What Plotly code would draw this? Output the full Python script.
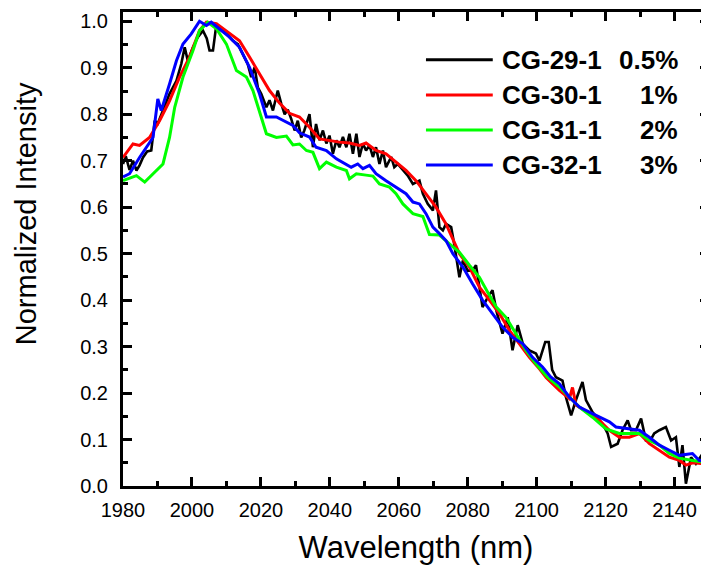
import plotly.graph_objects as go

# ---- data ----
series_names = ["CG-29-1", "CG-30-1", "CG-31-1", "CG-32-1"]
series_pct = ["0.5%", "1%", "2%", "3%"]
series_colors = ["#000000", "#FF0000", "#00FF00", "#0000FF"]

wl_black = [1980, 1980.8, 1981.9, 1982.9, 1983.9, 1984.8, 1985.8, 1987, 1988.2, 1989.2, 1990.1, 1991.6,
            1993.5, 1995.5, 1996.9, 1997.9, 1998.8, 2000.3, 2001.7, 2003.2, 2004.3, 2005.1, 2006.1, 2007.1,
            2008, 2010, 2011.9, 2013.3, 2014.8, 2016.2, 2017.2, 2018.2, 2019.1, 2020.1, 2021.6, 2022.5,
            2023.5, 2024.9, 2025.9, 2026.9, 2027.8, 2028.8, 2029.8, 2030.7, 2031.7, 2032.6, 2034.1, 2035.1,
            2036, 2037, 2038, 2039, 2039.9, 2040.9, 2041.9, 2042.8, 2043.8, 2044.8, 2045.7, 2046.7, 2047.7,
            2048.6, 2049.6, 2050.5, 2051.5, 2052.5, 2053.4, 2054.4, 2055.4, 2056.3, 2057.8, 2058.7, 2059.7,
            2061.2, 2062.6, 2064.1, 2066, 2067, 2068.4, 2069.9, 2070.8, 2071.8, 2072.8, 2073.7, 2075.2,
            2076.1, 2077.6, 2078.6, 2080, 2081.4, 2082.4, 2083.4, 2084.3, 2085.8, 2087.2, 2088.3, 2090.1,
            2091.6, 2093, 2094.5, 2096, 2097.9, 2099.8, 2100.8, 2102.5, 2103.5, 2104.5, 2105.6, 2107.5,
            2108.5, 2110, 2111.4, 2112.5, 2113.3, 2114.3, 2116.2, 2119.1, 2120.6, 2121.6, 2123.5, 2124.9,
            2126.4, 2127.4, 2128.8, 2130.3, 2131.7, 2133, 2134.1, 2135.6, 2137.5, 2139, 2140.4, 2141.4,
            2142.3, 2143.3, 2144.8, 2146.2, 2148.2, 2150]
int_black = [0.693, 0.71, 0.68, 0.70, 0.679, 0.69, 0.707, 0.72, 0.722, 0.786, 0.78, 0.808,
             0.844, 0.872, 0.908, 0.944, 0.915, 0.944, 0.966, 0.98, 0.963, 0.937, 0.937, 0.994,
             0.984, 0.973, 0.958, 0.951, 0.93, 0.908, 0.88, 0.901, 0.858, 0.844, 0.815, 0.83,
             0.808, 0.851, 0.823, 0.80, 0.81, 0.79, 0.765, 0.786, 0.75, 0.765, 0.80, 0.729,
             0.779, 0.744, 0.765, 0.737, 0.754, 0.715, 0.744, 0.729, 0.751, 0.729, 0.758, 0.715, 0.758,
             0.708, 0.737, 0.722, 0.733, 0.708, 0.729, 0.693, 0.722, 0.686, 0.708, 0.686, 0.693,
             0.679, 0.668, 0.65, 0.657, 0.629, 0.607, 0.593, 0.636, 0.557, 0.55, 0.564, 0.557,
             0.52, 0.449, 0.485, 0.463, 0.464, 0.475, 0.428, 0.385, 0.406, 0.421, 0.378, 0.328,
             0.363, 0.292, 0.346, 0.306, 0.292, 0.285, 0.27, 0.31, 0.31, 0.25, 0.234, 0.227,
             0.191, 0.152, 0.185, 0.21, 0.224, 0.185, 0.159, 0.134, 0.113, 0.084, 0.091, 0.12,
             0.141, 0.12, 0.12, 0.145, 0.098, 0.098, 0.113, 0.12, 0.127, 0.098, 0.105, 0.041,
             0.088, 0.005, 0.062, 0.048, 0.07, 0.06]

wl_red = [1980, 1982.9, 1984.8, 1987.7, 1990.6, 1993.5, 1996.4, 1999.3, 2002.2, 2004.2, 2007.1, 2010.9,
          2013.8, 2016.7, 2019.6, 2022.5, 2025.4, 2028.3, 2031.2, 2034.1, 2037, 2039.9, 2042.8, 2045.7,
          2048.6, 2050.5, 2053.4, 2056.3, 2059.2, 2062.1, 2065, 2067.9, 2070.8, 2073.7, 2077.6, 2080.5,
          2083.4, 2086.3, 2089.2, 2092.1, 2095, 2097.9, 2100.8, 2102.8, 2106.6, 2109.5, 2110.4, 2111.4,
          2115.3, 2118.2, 2121.1, 2124, 2126.9, 2129.8, 2132.7, 2135.6, 2138.5, 2141.4, 2143.3, 2145.3,
          2148.2, 2150]
int_red = [0.707, 0.736, 0.733, 0.75, 0.786, 0.829, 0.88, 0.923, 0.98, 0.998, 0.995, 0.973,
           0.958, 0.923, 0.887, 0.851, 0.824, 0.802, 0.794, 0.772, 0.747, 0.743, 0.74, 0.738,
           0.733, 0.738, 0.722, 0.715, 0.697, 0.679, 0.657, 0.629, 0.60, 0.564, 0.50, 0.471,
           0.428, 0.40, 0.371, 0.335, 0.306, 0.277, 0.252, 0.233, 0.206, 0.188, 0.212, 0.174,
           0.156, 0.141, 0.12, 0.105, 0.105, 0.113, 0.091, 0.077, 0.062, 0.055, 0.045, 0.05,
           0.048, 0.045]

wl_green = [1980, 1983.9, 1986.3, 1988.7, 1991.6, 1993.5, 1995, 1997.4, 2000.3, 2002.2, 2004.6, 2007.1,
            2010, 2012.9, 2015.8, 2017.7, 2019.6, 2021.6, 2024.5, 2027.4, 2029.3, 2031.2, 2033.2, 2035.1,
            2037, 2039, 2041.9, 2044.8, 2045.7, 2047.7, 2050.5, 2052.5, 2054.4, 2057.3, 2059.2, 2061.2,
            2064.1, 2067, 2068.9, 2071.8, 2074.7, 2077.6, 2080.5, 2083.4, 2085.8, 2088.3, 2091.1, 2094,
            2096.9, 2099.8, 2103, 2106.6, 2112.4, 2116.2, 2120.1, 2124, 2126.9, 2129.8, 2132.7, 2135.6,
            2138.5, 2141.4, 2145.3, 2150]
int_green = [0.657, 0.668, 0.654, 0.672, 0.693, 0.75, 0.815, 0.88, 0.937, 0.98, 0.998, 0.984,
             0.951, 0.894, 0.88, 0.851, 0.808, 0.758, 0.75, 0.753, 0.734, 0.736, 0.722, 0.718,
             0.683, 0.697, 0.686, 0.679, 0.661, 0.672, 0.669, 0.667, 0.65, 0.643, 0.629, 0.607,
             0.586, 0.58, 0.541, 0.54, 0.521, 0.503, 0.475, 0.449, 0.417, 0.385, 0.363, 0.328,
             0.292, 0.263, 0.235, 0.213, 0.17, 0.148, 0.123, 0.113, 0.113, 0.113, 0.098, 0.088,
             0.07, 0.06, 0.055, 0.05]

wl_blue = [1980, 1981.9, 1984.8, 1986.8, 1988.7, 1990.1, 1991.1, 1993.5, 1995.5, 1997.4, 1999.8, 2002.2,
           2004.2, 2005.6, 2008, 2010.9, 2013.8, 2016.7, 2019.6, 2021.6, 2024.5, 2027.4, 2029.3, 2031.2,
           2034.1, 2036, 2039, 2041.9, 2044.8, 2046.2, 2048.1, 2049.6, 2051.5, 2053.4, 2056.3, 2059.2,
           2062.1, 2064.1, 2066, 2067.9, 2069.9, 2071.8, 2073.7, 2075.7, 2078.6, 2081.4, 2084.3, 2087.2,
           2090.1, 2093, 2096, 2098.8, 2101.7, 2104, 2106.6, 2109.5, 2112.4, 2115.3, 2118.2, 2121.1,
           2123, 2126, 2129.8, 2132.7, 2135.6, 2138.5, 2141.4, 2145.2, 2147.2, 2150]
int_blue = [0.665, 0.672, 0.707, 0.729, 0.75, 0.833, 0.808, 0.865, 0.915, 0.951, 0.973, 1.0,
            0.991, 0.998, 0.984, 0.966, 0.944, 0.901, 0.844, 0.794, 0.794, 0.783, 0.776, 0.76,
            0.751, 0.729, 0.722, 0.704, 0.693, 0.686, 0.693, 0.683, 0.69, 0.672, 0.657, 0.643,
            0.629, 0.611, 0.607, 0.586, 0.557, 0.543, 0.528, 0.50, 0.471, 0.435, 0.40, 0.371,
            0.342, 0.32, 0.306, 0.277, 0.256, 0.235, 0.22, 0.191, 0.17, 0.159, 0.148, 0.138,
            0.127, 0.124, 0.12, 0.105, 0.088, 0.077, 0.066, 0.07, 0.055, 0.055]

x_data = [wl_black, wl_red, wl_green, wl_blue]
y_data = [int_black, int_red, int_green, int_blue]
line_widths = [2.6, 3, 3, 3]

x_range = [1980, 2150]
y_range = [0, 1.02]

FONT = "Arial, Liberation Sans, sans-serif"

fig = go.Figure()
for name, pct, col, xs, ys, lw in zip(series_names, series_pct, series_colors, x_data, y_data, line_widths):
    fig.add_trace(go.Scatter(x=xs, y=ys, mode="lines", name=f"{name} {pct}",
                             line=dict(color=col, width=lw), showlegend=False))

# ---- manual legend (long line samples, right-aligned percentages) ----
row_y = [0.899, 0.825, 0.751, 0.677]
for i, (name, pct, col) in enumerate(zip(series_names, series_pct, series_colors)):
    y = row_y[i]
    fig.add_shape(type="line", xref="paper", yref="paper", x0=0.517, x1=0.631, y0=y, y1=y,
                  line=dict(color=col, width=3))
    fig.add_annotation(xref="paper", yref="paper", x=0.643, y=y, text=f"<b>{name}</b>",
                       showarrow=False, xanchor="left", yanchor="middle",
                       font=dict(family=FONT, size=26, color="black"))
    fig.add_annotation(xref="paper", yref="paper", x=0.9505, y=y, text=f"<b>{pct}</b>",
                       showarrow=False, xanchor="right", yanchor="middle",
                       font=dict(family=FONT, size=26, color="black"))

# y-axis title (placed as in the reference, above the plot centre)
fig.add_annotation(xref="paper", yref="paper", x=-0.165, y=0.574, text="Normalized Intensity",
                   textangle=-90, showarrow=False, xanchor="center", yanchor="middle",
                   font=dict(family=FONT, size=29, color="black"))

axis_common = dict(showline=True, linecolor="black", linewidth=3, mirror="ticks",
                   ticks="inside", ticklen=9, tickwidth=2.5, tickcolor="black",
                   showgrid=False, zeroline=False, automargin=False,
                   tickfont=dict(family=FONT, size=20, color="black"))

fig.update_xaxes(range=x_range, tick0=1980, dtick=20,
                 minor=dict(ticks="inside", ticklen=5, tickwidth=2.5, tickcolor="black", dtick=10,
                            showgrid=False),
                 title=dict(text="Wavelength (nm)", font=dict(family=FONT, size=31, color="black"),
                            standoff=17),
                 ticklabelstandoff=4,
                 **axis_common)
fig.update_yaxes(range=y_range, tick0=0, dtick=0.1, tickformat=".1f",
                 minor=dict(ticks="inside", ticklen=5, tickwidth=2.5, tickcolor="black", dtick=0.05,
                            showgrid=False),
                 ticklabelstandoff=8,
                 **axis_common)

# the page body adds an 8 px offset, so the figure is 8 px smaller on each axis
fig.update_layout(width=701, height=563, margin=dict(l=115, r=0, t=4, b=85),
                  plot_bgcolor="white", paper_bgcolor="white",
                  font=dict(family=FONT, color="black"))

fig.write_html("out.html")
